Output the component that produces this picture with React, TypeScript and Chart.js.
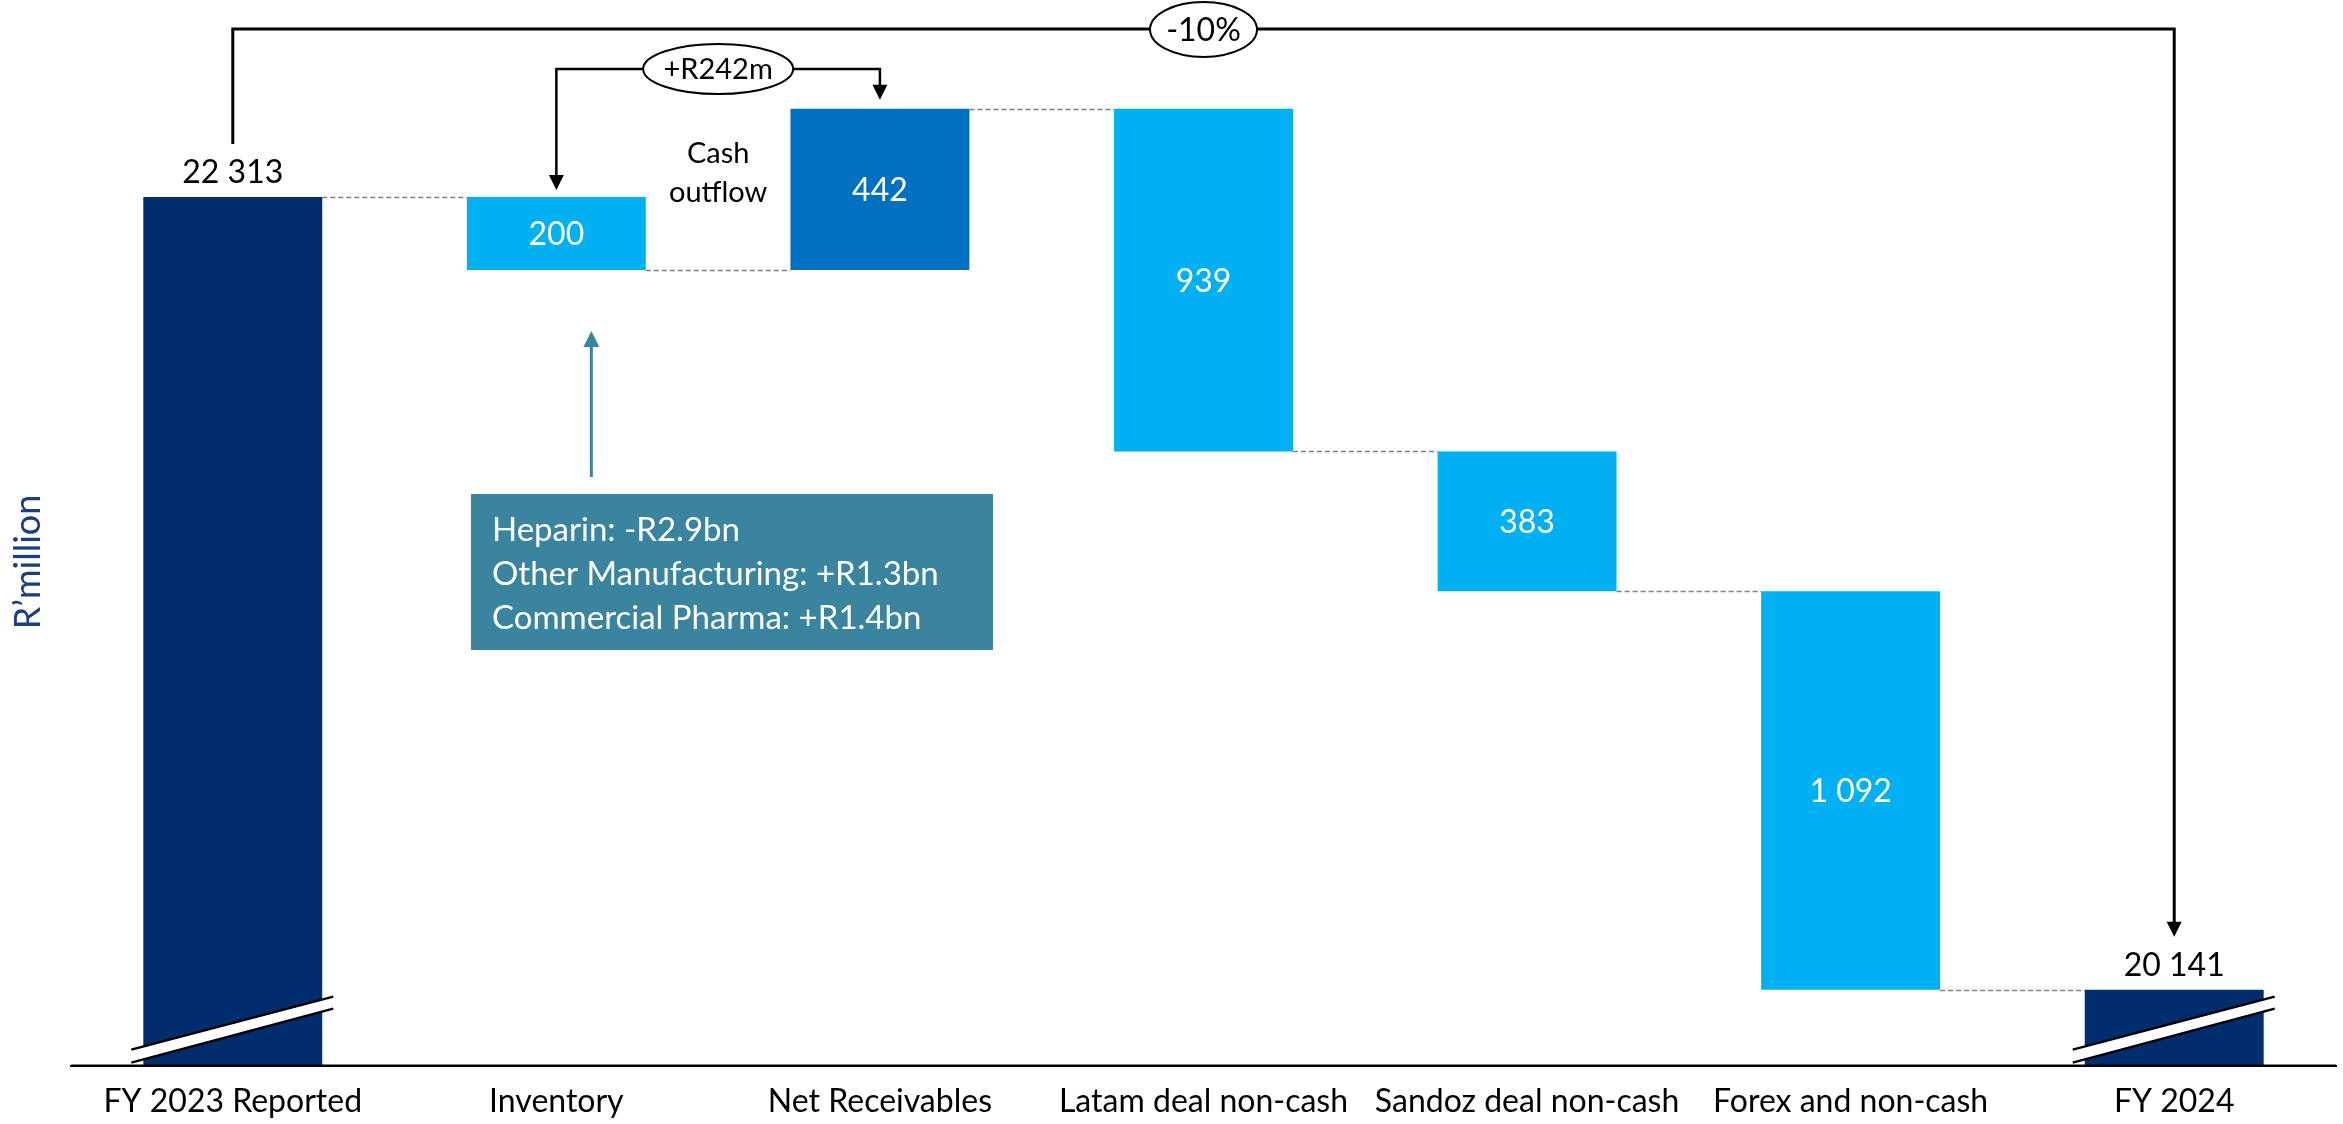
import React, { useEffect, useRef } from 'react';
import { Chart, registerables } from 'chart.js';

Chart.register(...registerables);

// ---- data -------------------------------------------------------------
const categories = [
  'FY 2023 Reported',
  'Inventory',
  'Net Receivables',
  'Latam deal non-cash',
  'Sandoz deal non-cash',
  'Forex and non-cash',
  'FY 2024',
];
const openingTotal = 22313;
// signed movements between the two totals (R'million)
const movements = [-200, 442, -939, -383, -1092];
const closingTotal = 20141;
// the value axis is broken: it starts just under the closing total
const axisFloor = 19933;
const axisCeiling = 22853;

const cashOutflowLines = ['Cash', 'outflow'];
const inventoryNotes = [
  'Heparin: -R2.9bn',
  'Other Manufacturing: +R1.3bn',
  'Commercial Pharma: +R1.4bn',
];
const yAxisTitle = 'R\u2019million';

// ---- styles -----------------------------------------------------------
const NAVY = '#002D6E';
const SKY = '#00B0F0';
const ROYAL = '#0070C0';
const TEAL = '#3A849F';
const TITLE_BLUE = '#1B3C87';
const FONT = 'Lato, "Open Sans", sans-serif';
const movementColors = [SKY, ROYAL, SKY, SKY, SKY];

const fmt = (n: number) => Math.round(Math.abs(n)).toLocaleString('en-US').replace(/,/g, ' ');

// floating ranges for each bar and the running level after each bar
const ranges: [number, number][] = [];
const levels: number[] = [];
ranges.push([axisFloor, openingTotal]);
levels.push(openingTotal);
let running = openingTotal;
movements.forEach((m) => {
  const next = running + m;
  ranges.push([Math.min(running, next), Math.max(running, next)]);
  levels.push(next);
  running = next;
});
ranges.push([axisFloor, closingTotal]);
levels.push(closingTotal);

const barColors = [NAVY, ...movementColors, NAVY];
const barLabels = [fmt(openingTotal), ...movements.map(fmt), fmt(closingTotal)];
const totalChangePct = Math.round(((closingTotal - openingTotal) / openingTotal) * 100);
const workingCapitalNet = movements[0] + movements[1];

function arrowDown(ctx: CanvasRenderingContext2D, x: number, tipY: number, w: number, len: number) {
  ctx.beginPath();
  ctx.moveTo(x, tipY);
  ctx.lineTo(x - w / 2, tipY - len);
  ctx.lineTo(x + w / 2, tipY - len);
  ctx.closePath();
  ctx.fill();
}

function arrowUp(ctx: CanvasRenderingContext2D, x: number, tipY: number, w: number, len: number) {
  ctx.beginPath();
  ctx.moveTo(x, tipY);
  ctx.lineTo(x - w / 2, tipY + len);
  ctx.lineTo(x + w / 2, tipY + len);
  ctx.closePath();
  ctx.fill();
}

function ellipseLabel(ctx: CanvasRenderingContext2D, cx: number, cy: number, rx: number, ry: number, text: string, size: number) {
  ctx.save();
  ctx.beginPath();
  ctx.ellipse(cx, cy, rx, ry, 0, 0, Math.PI * 2);
  ctx.fillStyle = '#fff';
  ctx.fill();
  ctx.lineWidth = 2;
  ctx.strokeStyle = '#000';
  ctx.stroke();
  ctx.fillStyle = '#000';
  ctx.font = `${size}px ${FONT}`;
  ctx.textAlign = 'center';
  ctx.textBaseline = 'alphabetic';
  ctx.fillText(text, cx, cy + size * 0.36);
  ctx.restore();
}

const waterfallDecor = {
  id: 'waterfallDecor',
  afterDatasetsDraw(chart: any) {
    const ctx: CanvasRenderingContext2D = chart.ctx;
    const x = chart.scales.x;
    const y = chart.scales.y;
    const area = chart.chartArea;
    const meta = chart.getDatasetMeta(0);
    const bars = meta.data as any[];
    const half = (bars[0].width as number) / 2;
    const cx = (i: number) => x.getPixelForValue(i);

    ctx.save();

    // dashed connectors between consecutive bars
    ctx.strokeStyle = '#7F7F7F';
    ctx.lineWidth = 1.5;
    ctx.setLineDash([5, 3]);
    for (let i = 0; i < categories.length - 1; i++) {
      const ly = Math.round(y.getPixelForValue(levels[i])) + 0.5;
      ctx.beginPath();
      ctx.moveTo(cx(i) + half, ly);
      ctx.lineTo(cx(i + 1) - half, ly);
      ctx.stroke();
    }
    ctx.setLineDash([]);

    // axis line on top of the bars
    ctx.strokeStyle = '#000';
    ctx.lineWidth = 2;
    ctx.beginPath();
    ctx.moveTo(area.left, area.bottom);
    ctx.lineTo(area.right, area.bottom);
    ctx.stroke();

    // axis-break marks across the two total bars
    [0, categories.length - 1].forEach((i) => {
      const c = cx(i);
      const b = area.bottom;
      const x0 = c - half - 12;
      const x1 = c + half + 11;
      const upL = b - 16, upR = b - 69;
      const loL = b - 3, loR = b - 57;
      ctx.fillStyle = '#fff';
      ctx.beginPath();
      ctx.moveTo(x0, upL);
      ctx.lineTo(x1, upR);
      ctx.lineTo(x1, loR);
      ctx.lineTo(x0, loL);
      ctx.closePath();
      ctx.fill();
      ctx.strokeStyle = '#000';
      ctx.lineWidth = 2.5;
      ctx.beginPath();
      ctx.moveTo(x0, upL);
      ctx.lineTo(x1, upR);
      ctx.moveTo(x0, loL);
      ctx.lineTo(x1, loR);
      ctx.stroke();
    });

    // value labels
    ctx.textAlign = 'center';
    ctx.textBaseline = 'alphabetic';
    ctx.font = `32px ${FONT}`;
    bars.forEach((bar, i) => {
      const [lo, hi] = ranges[i];
      if (i === 0 || i === categories.length - 1) {
        ctx.fillStyle = '#000';
        ctx.fillText(barLabels[i], cx(i), y.getPixelForValue(hi) - 14);
      } else {
        const mid = (y.getPixelForValue(lo) + y.getPixelForValue(hi)) / 2;
        ctx.fillStyle = '#fff';
        ctx.fillText(barLabels[i], cx(i), mid + 11.5);
      }
    });

    // overall change bracket
    const topY = 29;
    ctx.strokeStyle = '#000';
    ctx.fillStyle = '#000';
    ctx.lineWidth = 3;
    ctx.beginPath();
    ctx.moveTo(cx(0), y.getPixelForValue(openingTotal) - 53);
    ctx.lineTo(cx(0), topY);
    ctx.lineTo(cx(categories.length - 1), topY);
    const endTip = y.getPixelForValue(closingTotal) - 53;
    ctx.lineTo(cx(categories.length - 1), endTip - 14);
    ctx.stroke();
    arrowDown(ctx, cx(categories.length - 1), endTip, 15, 15);
    ellipseLabel(ctx, cx(3), topY + 0.5, 53.5, 27.5, `${totalChangePct}%`, 32);

    // working-capital bracket over inventory and receivables
    const wcY = 69;
    const invTip = y.getPixelForValue(ranges[1][1]) - 7;
    const recTip = y.getPixelForValue(ranges[2][1]) - 9;
    ctx.lineWidth = 2.5;
    ctx.beginPath();
    ctx.moveTo(cx(1), invTip - 14);
    ctx.lineTo(cx(1), wcY);
    ctx.lineTo(cx(2), wcY);
    ctx.lineTo(cx(2), recTip - 14);
    ctx.stroke();
    arrowDown(ctx, cx(1), invTip, 15, 15);
    arrowDown(ctx, cx(2), recTip, 15, 15);
    ellipseLabel(ctx, (cx(1) + cx(2)) / 2, wcY, 75, 25, `+R${workingCapitalNet}m`, 29);

    // "Cash outflow" note between the two working-capital bars
    ctx.fillStyle = '#000';
    ctx.font = `29px ${FONT}`;
    ctx.textAlign = 'center';
    const noteX = (cx(1) + cx(2)) / 2;
    ctx.fillText(cashOutflowLines[0], noteX, 163);
    ctx.fillText(cashOutflowLines[1], noteX, 202);

    // inventory breakdown box and pointer
    const boxL = 471, boxT = 494, boxW = 522, boxH = 156;
    ctx.fillStyle = TEAL;
    ctx.fillRect(boxL, boxT, boxW, boxH);
    ctx.fillStyle = '#fff';
    ctx.font = `33px ${FONT}`;
    ctx.textAlign = 'left';
    inventoryNotes.forEach((t, k) => ctx.fillText(t, boxL + 21, 541 + k * 44));

    const ptrX = cx(1) + 35;
    const ptrTip = y.getPixelForValue(ranges[1][0]) + 61;
    ctx.strokeStyle = TEAL;
    ctx.fillStyle = TEAL;
    ctx.lineWidth = 3;
    ctx.beginPath();
    ctx.moveTo(ptrX, boxT - 17);
    ctx.lineTo(ptrX, ptrTip + 14);
    ctx.stroke();
    arrowUp(ctx, ptrX, ptrTip, 16, 16);

    // value-axis title
    ctx.save();
    ctx.translate(28, 562);
    ctx.rotate(-Math.PI / 2);
    ctx.fillStyle = TITLE_BLUE;
    ctx.font = `36px ${FONT}`;
    ctx.textAlign = 'center';
    ctx.textBaseline = 'middle';
    ctx.fillText(yAxisTitle, 0, 0);
    ctx.restore();

    ctx.restore();
  },
};

export default function App() {
  const canvasRef = useRef<HTMLCanvasElement | null>(null);

  useEffect(() => {
    document.body.style.margin = '0';
    const canvas = canvasRef.current;
    if (!canvas) return;
    const chart = new Chart(canvas, {
      type: 'bar',
      data: {
        labels: categories,
        datasets: [
          {
            data: ranges as any,
            backgroundColor: barColors,
            borderWidth: 0,
            borderSkipped: false,
            barPercentage: 0.553,
            categoryPercentage: 1,
          },
        ],
      },
      options: {
        responsive: false,
        devicePixelRatio: 1,
        animation: false,
        layout: { padding: { left: 71, right: 7, top: 0, bottom: 4 } },
        plugins: {
          legend: { display: false },
          tooltip: { enabled: false },
        },
        scales: {
          x: {
            grid: { display: false, drawTicks: false },
            border: { display: true, color: '#000', width: 2 },
            ticks: {
              color: '#000',
              font: { family: FONT, size: 32 },
              padding: 17,
              maxRotation: 0,
              minRotation: 0,
              autoSkip: false,
            },
          },
          y: {
            display: false,
            min: axisFloor,
            max: axisCeiling,
          },
        },
      },
      plugins: [waterfallDecor],
    });
    return () => chart.destroy();
  }, []);

  return (
    <div
      style={{
        position: 'fixed',
        left: 0,
        top: 0,
        width: 2343,
        height: 1124,
        overflow: 'hidden',
        background: '#fff',
      }}
    >
      <canvas ref={canvasRef} width={2343} height={1142} />
    </div>
  );
}
